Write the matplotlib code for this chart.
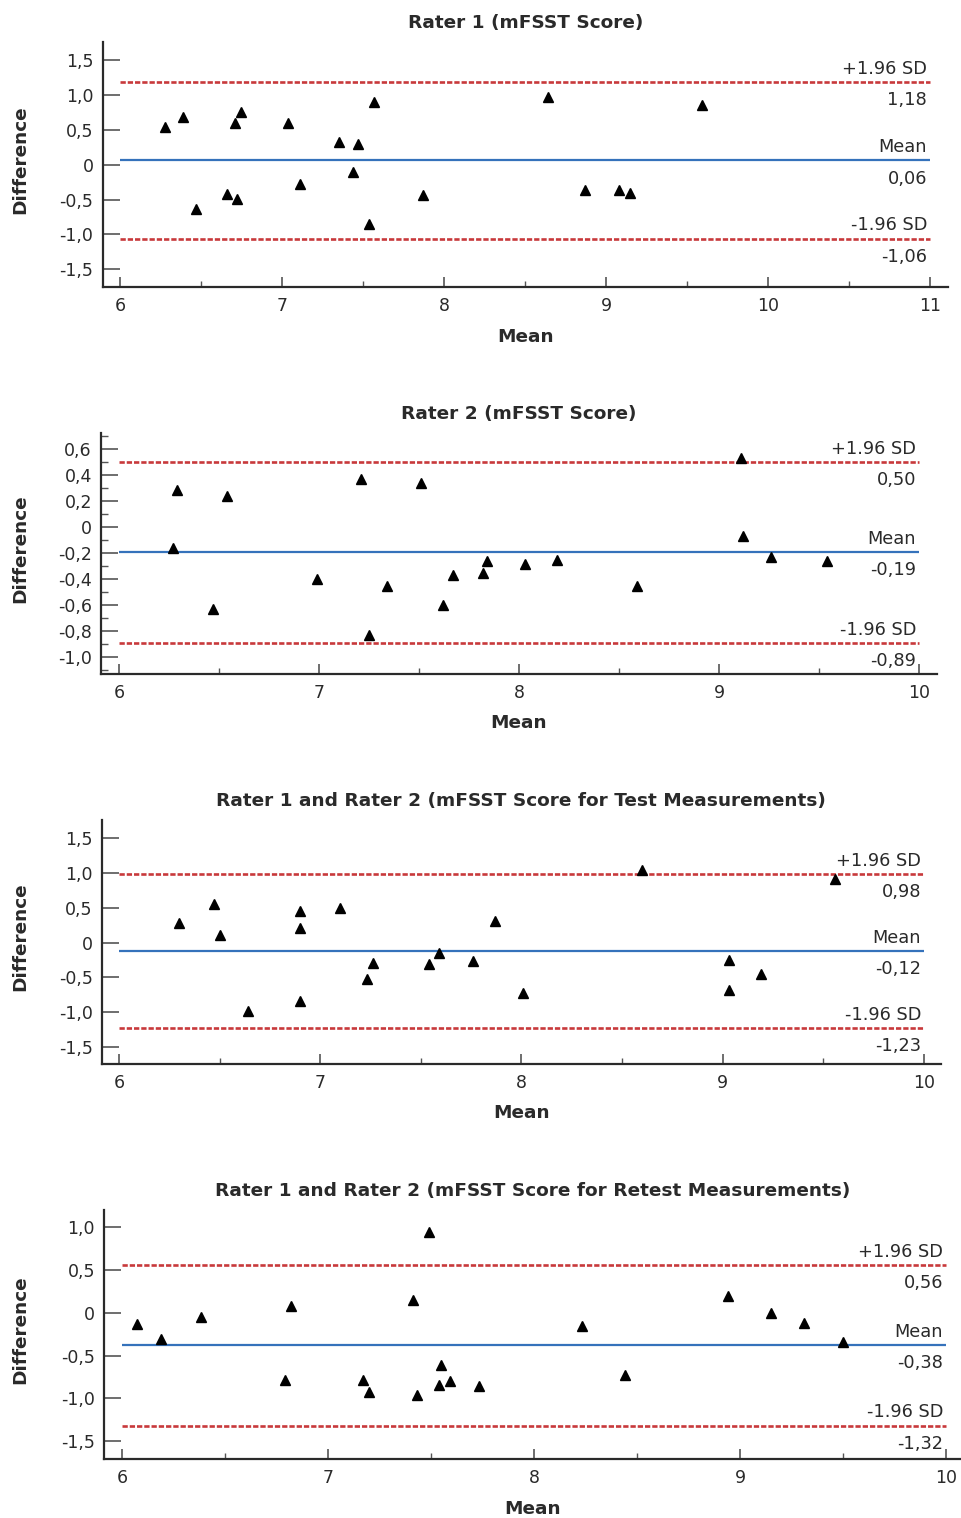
import matplotlib
matplotlib.use("Agg")
import matplotlib.pyplot as plt
from matplotlib.ticker import MultipleLocator, FuncFormatter

plt.rcParams['font.family'] = ['DejaVu Sans']

# Rater 1 (mFSST Score)
r1_mean = [6.28, 6.39, 6.47, 6.66, 6.71, 6.72, 6.75, 7.04, 7.11, 7.35,
           7.47, 7.44, 7.57, 7.54, 7.87, 8.64, 8.87, 9.08, 9.15, 9.59]
r1_diff = [0.54, 0.68, -0.64, -0.42, 0.59, -0.49, 0.75, 0.60, -0.28, 0.32,
           0.30, -0.11, 0.90, -0.85, -0.44, 0.97, -0.37, -0.36, -0.40, 0.86]

# Rater 2 (mFSST Score)
r2_mean = [6.27, 6.29, 6.47, 6.54, 6.99, 7.21, 7.25, 7.34, 7.51, 7.62,
           7.67, 7.82, 7.84, 8.03, 8.19, 8.59, 9.11, 9.12, 9.26, 9.54]
r2_diff = [-0.16, 0.29, -0.63, 0.24, -0.40, 0.37, -0.83, -0.45, 0.34, -0.60,
           -0.37, -0.35, -0.26, -0.28, -0.25, -0.45, 0.53, -0.07, -0.23, -0.26]

# Rater 1 and Rater 2, test
test_mean = [6.30, 6.47, 6.50, 6.64, 6.90, 6.90, 6.90, 7.10, 7.23, 7.26,
             7.54, 7.59, 7.76, 7.87, 8.01, 8.60, 9.03, 9.03, 9.19, 9.56]
test_diff = [0.28, 0.55, 0.11, -0.98, 0.46, 0.21, -0.84, 0.50, -0.53, -0.29,
             -0.31, -0.15, -0.26, 0.31, -0.72, 1.04, -0.25, -0.69, -0.45, 0.92]

# Rater 1 and Rater 2, retest
retest_mean = [6.07, 6.19, 6.38, 6.79, 6.82, 7.17, 7.20, 7.41, 7.43, 7.49,
               7.54, 7.55, 7.59, 7.73, 8.23, 8.44, 8.94, 9.15, 9.31, 9.50]
retest_diff = [-0.13, -0.31, -0.05, -0.78, 0.08, -0.78, -0.93, 0.15, -0.96, 0.94,
               -0.85, -0.61, -0.80, -0.86, -0.16, -0.73, 0.20, 0.00, -0.12, -0.34]

# mean difference, +1.96 SD, -1.96 SD
r1_stats = [0.06, 1.18, -1.06]
r2_stats = [-0.19, 0.50, -0.89]
test_stats = [-0.12, 0.98, -1.23]
retest_stats = [-0.38, 0.56, -1.32]

titles = ['Rater 1 (mFSST Score)',
          'Rater 2 (mFSST Score)',
          'Rater 1 and Rater 2 (mFSST Score for Test Measurements)',
          'Rater 1 and Rater 2 (mFSST Score for Retest Measurements)']

W, H = 962, 1518
RED = '#c8393b'
BLUE = '#3572bb'
INK = '#2a2a2a'

# panel boxes in pixels: left, top, right, bottom
panels = [
    dict(box=(102.5, 41.7, 948, 287.3), xlim=(5.892, 11.111), xend=11,
         ylim=(-1.757, 1.762), yticks=(-1.5, 1.5, 0.5), yminor=None,
         x=r1_mean, y=r1_diff, stats=r1_stats),
    dict(box=(101, 433.3, 937, 674), xlim=(5.91, 10.09), xend=10,
         ylim=(-1.128, 0.723), yticks=(-1.0, 0.6, 0.2), yminor=0.1,
         x=r2_mean, y=r2_diff, stats=r2_stats),
    dict(box=(101.7, 820, 940.6, 1064), xlim=(5.914, 10.083), xend=10,
         ylim=(-1.748, 1.763), yticks=(-1.5, 1.5, 0.5), yminor=None,
         x=test_mean, y=test_diff, stats=test_stats),
    dict(box=(104, 1210, 961, 1459.3), xlim=(5.911, 10.073), xend=10,
         ylim=(-1.713, 1.202), yticks=(-1.5, 1.0, 0.5), yminor=None,
         x=retest_mean, y=retest_diff, stats=retest_stats),
]


def comma(v, pos=None):
    if abs(v) < 1e-9:
        return '0'
    return f'{v:.1f}'.replace('.', ',')


fig = plt.figure(figsize=(W / 100, H / 100), dpi=100)

for p, title in zip(panels, titles):
    l, t, r, b = p['box']
    ax = fig.add_axes([l / W, 1 - b / H, (r - l) / W, (b - t) / H])
    ax.set_xlim(*p['xlim'])
    ax.set_ylim(*p['ylim'])

    mean, upper, lower = p['stats']
    ax.hlines([upper, lower], 6, p['xend'], colors=RED, linewidth=1.9,
              linestyles=(0, (2.0, 0.75)), zorder=2)
    ax.hlines(mean, 6, p['xend'], colors=BLUE, linewidth=1.6, zorder=2)
    ax.plot(p['x'], p['y'], linestyle='none', marker='^', markersize=7.5,
            color='black', zorder=3)

    for val, name in [(upper, '+1.96 SD'), (mean, 'Mean'), (lower, '-1.96 SD')]:
        ax.annotate(name, (p['xend'], val), xytext=(-2, 6), textcoords='offset points',
                    ha='right', va='baseline', fontsize=12.8, color=INK)
        ax.annotate(f'{val:.2f}'.replace('.', ','), (p['xend'], val), xytext=(-2, -6.5),
                    textcoords='offset points', ha='right', va='top', fontsize=12.8, color=INK)

    lo, hi, step = p['yticks']
    n = int(round((hi - lo) / step))
    ax.set_yticks([lo + i * step for i in range(n + 1)])
    ax.yaxis.set_major_formatter(FuncFormatter(comma))
    if p['yminor']:
        ax.yaxis.set_minor_locator(MultipleLocator(p['yminor']))
    ax.set_xticks(range(6, p['xend'] + 1))
    ax.xaxis.set_minor_locator(MultipleLocator(0.5))

    for s in ['top', 'right']:
        ax.spines[s].set_visible(False)
    for s in ['left', 'bottom']:
        ax.spines[s].set_linewidth(1.6)
        ax.spines[s].set_color(INK)

    ax.tick_params(axis='y', which='major', direction='in', length=12.3, width=1.2,
                   pad=6.5, labelsize=12.5, colors='#555555', labelcolor=INK)
    ax.tick_params(axis='y', which='minor', direction='in', length=5, width=1.0,
                   colors='#555555')
    ax.tick_params(axis='x', which='major', direction='in', length=7, width=1.2,
                   pad=7, labelsize=12.5, colors='#555555', labelcolor=INK)
    ax.tick_params(axis='x', which='minor', direction='in', length=4.5, width=1.0,
                   colors='#555555')

    ax.set_title(title, fontsize=13.3, fontweight='bold', color=INK, pad=10)
    ax.set_xlabel('Mean', fontsize=13.3, fontweight='bold', color=INK, labelpad=9)
    fig.text(20 / W, 1 - ((t + b) / 2 - 5) / H, 'Difference', rotation=90,
             ha='center', va='center', fontsize=13.3, fontweight='bold', color=INK)

fig.savefig('out.png', dpi=100)
